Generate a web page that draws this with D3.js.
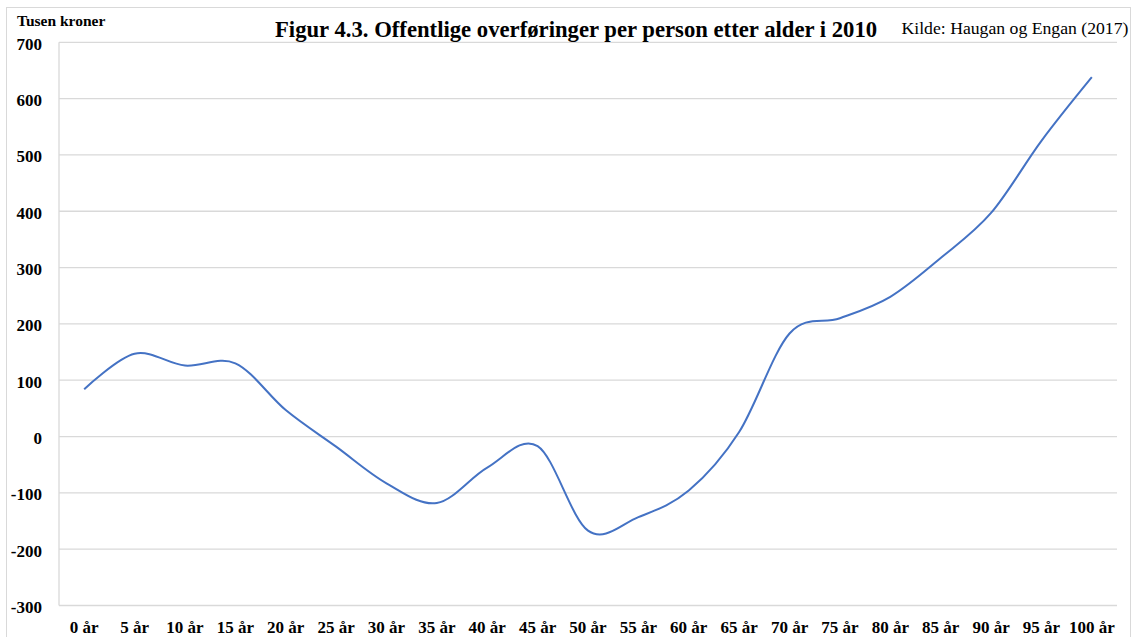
<!DOCTYPE html>
<html>
<head>
<meta charset="utf-8">
<script src="https://cdn.jsdelivr.net/npm/d3@7"></script>
<style>
  body { margin: 0; background: #fff; }
  svg text { font-family: "Liberation Serif", "Times New Roman", serif; }
</style>
</head>
<body>
<div id="chart"></div>
<script>
// data
const ages = ["0 år", "5 år", "10 år", "15 år", "20 år", "25 år", "30 år", "35 år", "40 år", "45 år", "50 år",
              "55 år", "60 år", "65 år", "70 år", "75 år", "80 år", "85 år", "90 år", "95 år", "100 år"];
const transfers = [84, 147, 126, 130, 47, -18, -83, -118, -55, -17, -167,
                   -143, -96, 8, 183, 210, 248, 317, 397, 525, 638];
const yTicks = [-300, -200, -100, 0, 100, 200, 300, 400, 500, 600, 700];

const W = 1136, H = 637;
const margin = { top: 42.3, right: 19, bottom: 31.5, left: 59 };
const width = W - margin.left - margin.right;
const height = H - margin.top - margin.bottom;

const svg = d3.select("#chart")
    .append("svg")
    .attr("width", W)
    .attr("height", H);

// outer frame
svg.append("rect")
    .attr("x", 6.5).attr("y", 7.5)
    .attr("width", 1124).attr("height", 640)
    .attr("fill", "none")
    .attr("stroke", "#d9d9d9")
    .attr("stroke-width", 1);

const g = svg.append("g")
    .attr("transform", `translate(${margin.left},${margin.top})`);

const xScale = d3.scaleBand().domain(ages).range([0, width]);
const yScale = d3.scaleLinear().domain([-300, 700]).range([height, 0]);

// gridlines
g.selectAll(".grid")
    .data(yTicks)
    .enter().append("line")
    .attr("class", "grid")
    .attr("x1", 0)
    .attr("x2", width)
    .attr("y1", d => yScale(d))
    .attr("y2", d => yScale(d))
    .attr("stroke", "#d9d9d9")
    .attr("stroke-width", 1.3);

// vertical axis line
g.append("line")
    .attr("x1", 0).attr("x2", 0)
    .attr("y1", 0).attr("y2", height)
    .attr("stroke", "#d9d9d9")
    .attr("stroke-width", 1.3);

// y labels
g.selectAll(".ylab")
    .data(yTicks)
    .enter().append("text")
    .attr("class", "ylab")
    .attr("x", -17)
    .attr("y", d => yScale(d) + 7.5)
    .attr("text-anchor", "end")
    .attr("font-size", "17px")
    .attr("font-weight", "bold")
    .attr("fill", "#000")
    .text(d => d);

// x labels
g.selectAll(".xlab")
    .data(ages)
    .enter().append("text")
    .attr("class", "xlab")
    .attr("x", d => xScale(d) + xScale.bandwidth() / 2)
    .attr("y", height + 28)
    .attr("text-anchor", "middle")
    .attr("font-size", "17px")
    .attr("font-weight", "bold")
    .attr("fill", "#000")
    .text(d => d);

// line
const line = d3.line()
    .x((d, i) => xScale(ages[i]) + xScale.bandwidth() / 2)
    .y(d => yScale(d))
    .curve(d3.curveCardinal.tension(0));

g.append("path")
    .datum(transfers)
    .attr("fill", "none")
    .attr("stroke", "#4472c4")
    .attr("stroke-width", 2)
    .attr("d", line);

// texts
svg.append("text")
    .attr("x", 17).attr("y", 26)
    .attr("font-size", "15.5px")
    .attr("font-weight", "bold")
    .text("Tusen kroner");

svg.append("text")
    .attr("x", 275).attr("y", 37)
    .attr("font-size", "22.7px")
    .attr("font-weight", "bold")
    .text("Figur 4.3. Offentlige overføringer per person etter alder i 2010");

svg.append("text")
    .attr("x", 901.5).attr("y", 33.5)
    .attr("font-size", "17.7px")
    .text("Kilde: Haugan og Engan (2017)");
</script>
</body>
</html>
